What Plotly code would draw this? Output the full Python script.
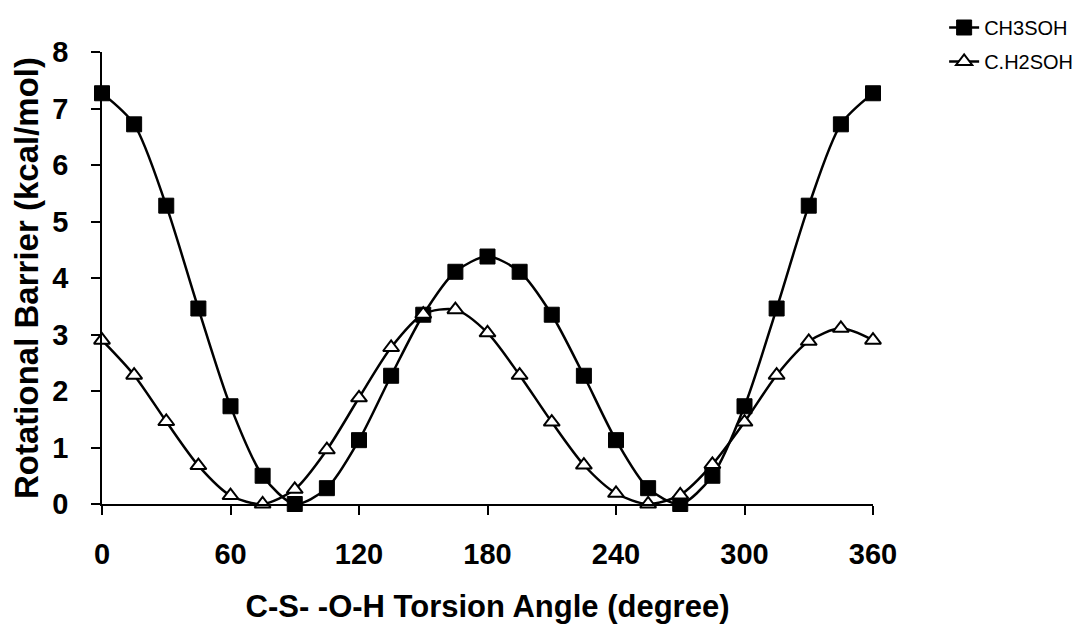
import plotly.graph_objects as go

angles = [0, 15, 30, 45, 60, 75, 90, 105, 120, 135, 150, 165, 180,
          195, 210, 225, 240, 255, 270, 285, 300, 315, 330, 345, 360]
ch3soh = [7.27, 6.72, 5.28, 3.46, 1.73, 0.50, 0.0, 0.28, 1.13, 2.27, 3.35, 4.11, 4.38,
          4.11, 3.35, 2.27, 1.13, 0.28, 0.0, 0.50, 1.73, 3.46, 5.28, 6.72, 7.27]
ch2soh = [2.90, 2.28, 1.46, 0.68, 0.15, 0.0, 0.26, 0.96, 1.88, 2.77, 3.36, 3.44, 3.03,
          2.28, 1.45, 0.69, 0.19, 0.0, 0.16, 0.70, 1.45, 2.28, 2.88, 3.11, 2.90]
names = ["CH3SOH", "C.H2SOH"]
x_ticks = [0, 60, 120, 180, 240, 300, 360]
y_ticks = [0, 1, 2, 3, 4, 5, 6, 7, 8]

FONT = "Arial, 'Liberation Sans', sans-serif"

fig = go.Figure()
fig.add_trace(go.Scatter(
    x=angles, y=ch3soh, name=names[0], mode="lines+markers",
    line=dict(color="black", width=2.5, shape="spline", smoothing=0.8),
    marker=dict(symbol="square", size=15, color="black", line=dict(color="black", width=1)),
    cliponaxis=False, legendgroup="a"))
fig.add_trace(go.Scatter(
    x=angles, y=ch2soh, name=names[1], mode="lines+markers",
    line=dict(color="black", width=2.5, shape="spline", smoothing=0.8),
    marker=dict(symbol="triangle-up", size=14, color="white", line=dict(color="black", width=2)),
    cliponaxis=False, legendgroup="b"))

axis_common = dict(
    showline=True, linecolor="black", linewidth=1.5, ticks="outside",
    ticklen=9, tickwidth=1.5, tickcolor="black", showgrid=False, zeroline=False,
    automargin=False,
    tickfont=dict(family=FONT, size=29, color="black", weight="bold"),
)
fig.update_xaxes(range=[0, 360], tickvals=x_ticks, ticktext=[str(v) for v in x_ticks],
                 ticklabelstandoff=14,
                 title=dict(text="<b>C-S- -O-H Torsion Angle (degree)</b>",
                            font=dict(family=FONT, size=31, color="black"), standoff=27),
                 **axis_common)
fig.update_yaxes(range=[0, 8], tickvals=y_ticks, ticktext=[str(v) for v in y_ticks],
                 ticklabelstandoff=17,
                 title=dict(text="<b>Rotational Barrier (kcal/mol)</b>",
                            font=dict(family=FONT, size=33, color="black"), standoff=14),
                 **axis_common)

fig.update_layout(
    width=1086, height=627,
    margin=dict(l=94, r=221, t=44, b=131),
    plot_bgcolor="white", paper_bgcolor="white",
    font=dict(family=FONT, color="black"),
    legend=dict(xref="container", yref="container", x=0.862, y=1.02,
                xanchor="left", yanchor="top",
                font=dict(family=FONT, size=20, color="black"),
                traceorder="grouped", tracegroupgap=5,
                bgcolor="rgba(0,0,0,0)"),
)
fig.write_html("out.html")
